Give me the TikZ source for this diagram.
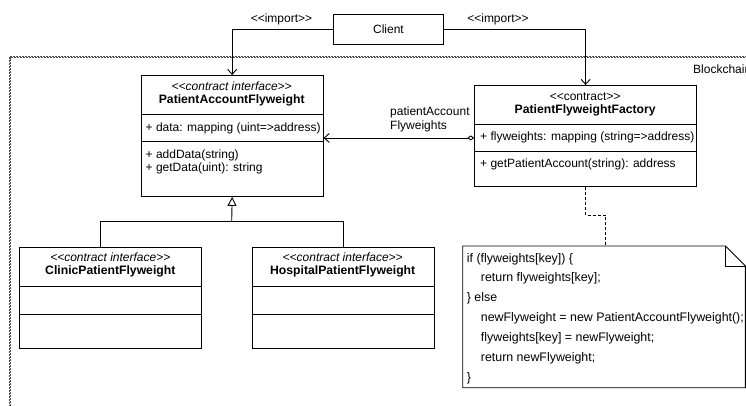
\documentclass[tikz,border=0pt]{standalone}
\usepackage{fontspec}
\setmainfont{Liberation Sans}
\usetikzlibrary{arrows.meta}
\newcommand{\dlt}{<\kern0pt<}
\newcommand{\dgt}{>\kern0pt>}
\begin{document}
\begin{tikzpicture}[x=1pt,y=-1pt,
  font=\fontsize{12}{14}\selectfont,
  classbox/.style={draw=black, line width=0.9pt, rectangle, inner sep=0pt, anchor=north west, minimum width=182pt, minimum height=101pt},
  plainbox/.style={draw=black, line width=0.9pt, rectangle, inner sep=0pt, anchor=north west},
  sepline/.style={draw=black, line width=0.9pt},
  txt/.style={inner sep=0pt, anchor=center},
  ltxt/.style={inner sep=0pt, anchor=west},
  notetxt/.style={inner sep=0pt, anchor=west, font=\fontsize{12.4}{14}\selectfont},
  stereo/.style={inner sep=0pt, anchor=center, font=\fontsize{12}{14}\selectfont\itshape},
  cname/.style={inner sep=0pt, anchor=center, font=\fontsize{12.2}{14}\selectfont\bfseries},
  conn/.style={draw=black, line width=0.9pt},
  openarrow/.style={-{Straight Barb[length=5pt,width=9pt,line width=0.9pt]}},
  framepat/.style={draw=black!70, line width=0.9pt, dash pattern=on 2pt off 1pt},
  notelink/.style={draw=black, line width=0.9pt, dash pattern=on 3pt off 2pt}
]
\clip (0,0) rectangle (746,405);
\fill[white] (0,0) rectangle (746,405);

% Blockchain frame
\draw[framepat] (9.5,56.5) -- (760,56.5);
\draw[framepat, dash phase=1.5pt] (9.5,57.5) -- (760,57.5);
\draw[framepat] (9.5,56.5) -- (9.5,420);
\draw[framepat, dash phase=1.5pt] (10.5,57.5) -- (10.5,420);
\node[ltxt] (bc) at (693,69) {Blockchain};

% Client
\node[plainbox, minimum width=110pt, minimum height=30pt] (client) at (333,14) {};
\node[txt] (clienttxt) at (client.center) {Client};

% PatientAccountFlyweight
\node[classbox, minimum height=121pt] (paf) at (140.7,75) {};
\node[stereo] (pafs) at (231.7,86) {\dlt contract interface\dgt};
\node[cname] (pafn) at (231.7,100) {PatientAccountFlyweight};
\draw[sepline] ([yshift=-39.3pt]paf.north west) -- ([yshift=-39.3pt]paf.north east);
\draw[sepline] ([yshift=-66.7pt]paf.north west) -- ([yshift=-66.7pt]paf.north east);
\node[ltxt] (pafa) at (145.5,128) {+ data: mapping (uint=\kern0pt>address)};
\node[ltxt] (pafm1) at (145.5,155.5) {+ addData(string)};
\node[ltxt] (pafm2) at (145.5,168.5) {+ getData(uint): string};

% PatientFlyweightFactory
\node[plainbox, minimum width=221.7pt, minimum height=101pt] (fac) at (474.3,85) {};
\node[txt] (facs) at (585.15,96.7) {\dlt contract\dgt};
\node[cname] (facn) at (585.15,110) {PatientFlyweightFactory};
\draw[sepline] ([yshift=-39.3pt]fac.north west) -- ([yshift=-39.3pt]fac.north east);
\draw[sepline] ([yshift=-66.7pt]fac.north west) -- ([yshift=-66.7pt]fac.north east);
\node[ltxt] (faca) at (480,137.7) {+ flyweights: mapping (string=\kern0pt>address)};
\node[ltxt] (facm) at (480,164) {+ getPatientAccount(string): address};

% ClinicPatientFlyweight
\node[classbox] (cli) at (19.3,246.7) {};
\node[stereo] (clis) at (110.3,257.7) {\dlt contract interface\dgt};
\node[cname] (clin) at (110.3,271.7) {ClinicPatientFlyweight};
\draw[sepline] ([yshift=-39.3pt]cli.north west) -- ([yshift=-39.3pt]cli.north east);
\draw[sepline] ([yshift=-67.3pt]cli.north west) -- ([yshift=-67.3pt]cli.north east);

% HospitalPatientFlyweight
\node[classbox] (hos) at (251.7,246.7) {};
\node[stereo] (hoss) at (342.7,257.7) {\dlt contract interface\dgt};
\node[cname] (hosn) at (342.7,271.7) {HospitalPatientFlyweight};
\draw[sepline] ([yshift=-39.3pt]hos.north west) -- ([yshift=-39.3pt]hos.north east);
\draw[sepline] ([yshift=-67.3pt]hos.north west) -- ([yshift=-67.3pt]hos.north east);

% import dependencies
\draw[conn, openarrow] (client.west) -| (paf.north);
\draw[conn, openarrow] (client.east) -| (fac.north);
\node[txt] (imp1) at (281.5,19) {\dlt import\dgt};
\node[txt] (imp2) at (498,19) {\dlt import\dgt};

% aggregation
\draw[conn, {Diamond[open,length=7pt,width=5pt,line width=0.9pt]}-{Straight Barb[length=5pt,width=9pt,line width=0.9pt]}]
  ([yshift=-2pt]fac.west) -- ([yshift=-2pt]fac.west -| paf.east);
\node[ltxt] (agl1) at (390,112.7) {patientAccount};
\node[ltxt] (agl2) at (390,126) {Flyweights};

% generalization
\coordinate (split) at (231.7,221.7);
\draw[conn] ([xshift=-10.3pt]cli.north) |- (split) -| (hos.north);
\draw[conn, -{Triangle[open,length=9pt,width=9pt,line width=0.9pt]}] (split) -- (paf.south);

% note
\coordinate (nnw) at (462.7,246);
\coordinate (nfold) at (725.5,246);
\coordinate (nfoldb) at (725.5,266);
\coordinate (nne) at (745.4,266);
\coordinate (nse) at (745.4,387.7);
\coordinate (nsw) at (462.7,387.7);
\draw[conn, fill=white] (nnw) -- (nfold) -- (nne) -- (nse) -- (nsw) -- cycle;
\draw[conn] (nfold) -- (nfoldb) -- (nne);
\node[notetxt] (n1) at (466.7,259) {if (flyweights[key]) \{};
\node[notetxt] (n2) at (480.7,278.5) {return flyweights[key];};
\node[notetxt] (n3) at (466.7,298.5) {\} else};
\node[notetxt] (n4) at (480.7,318.5) {newFlyweight = new PatientAccountFlyweight();};
\node[notetxt] (n5) at (480.7,338.5) {flyweights[key] = newFlyweight;};
\node[notetxt] (n6) at (480.7,358.5) {return newFlyweight;};
\node[notetxt] (n7) at (466.7,378.5) {\}};

% note link
\coordinate (notetop) at (605.7,246);
\coordinate (bend) at (605.7,215);
\draw[notelink] (fac.south) |- (bend) -- (notetop);
\end{tikzpicture}
\end{document}
